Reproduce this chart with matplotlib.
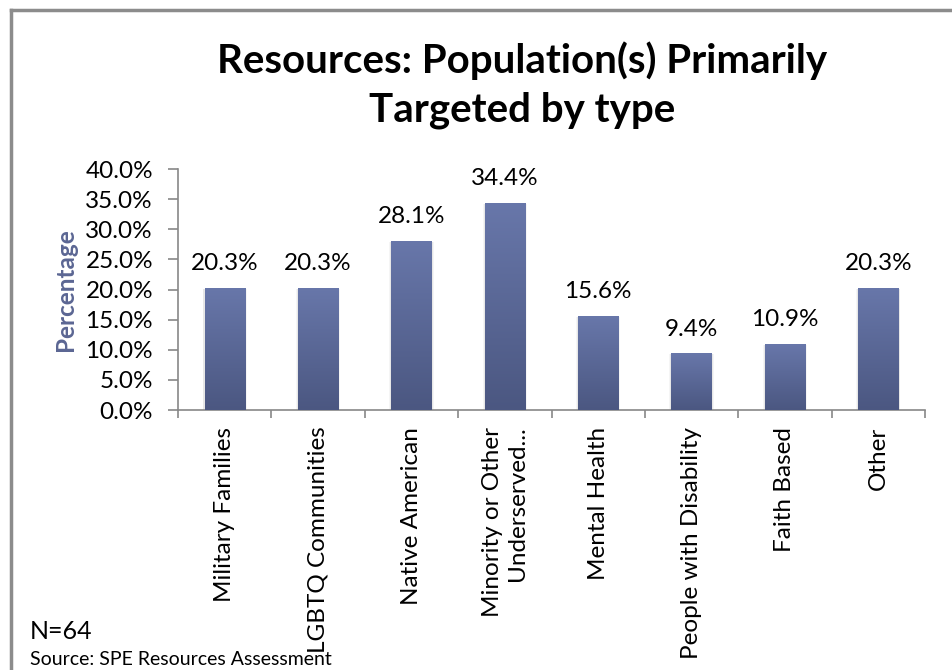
import numpy as np
import matplotlib
matplotlib.use('Agg')
import matplotlib.pyplot as plt
from matplotlib.lines import Line2D
from matplotlib.ticker import FixedLocator, PercentFormatter

plt.rcParams['font.family'] = ['Lato', 'DejaVu Sans']

categories = ['Military Families', 'LGBTQ Communities', 'Native American',
              'Minority or Other\nUnderserved...', 'Mental Health',
              'People with Disability', 'Faith Based', 'Other']
values = [20.3, 20.3, 28.1, 34.4, 15.6, 9.4, 10.9, 20.3]
y_ticks = [0, 5, 10, 15, 20, 25, 30, 35, 40]

fig = plt.figure(figsize=(9.53, 6.70), dpi=100)
ax = fig.add_axes([0.1868, 0.388, 0.7838, 0.3597])

x = np.arange(len(categories))
bar_w = 0.43
bars = ax.bar(x, values, width=bar_w, color='none', edgecolor='none', zorder=3)

# vertical gradient fill for each bar, plus a soft shadow
grad = np.linspace(0, 1, 256).reshape(-1, 1)
cmap = matplotlib.colors.LinearSegmentedColormap.from_list('bar', ['#4b5781', '#6877aa'])
for b in bars:
    x0, h = b.get_x(), b.get_height()
    for off, a in [(0.025, 0.35), (0.045, 0.2)]:
        ax.bar(x0 + bar_w / 2, h + 0.15, width=bar_w + off, bottom=-0.3, color='#cfcfcf',
               alpha=a, zorder=2, linewidth=0)
    im = ax.imshow(grad, cmap=cmap, aspect='auto', origin='lower',
                   extent=(x0, x0 + bar_w, 0, h), zorder=3)
    im.set_clip_path(b)
    ax.annotate(f'{h:.1f}%', (x0 + bar_w / 2, h), xytext=(0, 10),
                textcoords='offset points', ha='center', va='bottom', fontsize=17.5)

ax.set_xlim(-0.5, len(categories) - 0.5)
ax.set_ylim(0, 40)
ax.yaxis.set_major_locator(FixedLocator(y_ticks))
ax.yaxis.set_major_formatter(PercentFormatter(decimals=1))

ax.set_xticks(x)
ax.set_xticklabels(categories, rotation=90, fontsize=17.5, multialignment='right')
ax.tick_params(axis='x', length=0, pad=12)
ax.set_xticks(np.arange(len(categories) + 1) - 0.5, minor=True)
ax.tick_params(axis='x', which='minor', length=6, color='#888888', width=1.2)
ax.tick_params(axis='y', labelsize=17.5, length=7, color='#888888', width=1.2, pad=11)

for side in ['top', 'right']:
    ax.spines[side].set_visible(False)
for side in ['left', 'bottom']:
    ax.spines[side].set_color('#888888')
    ax.spines[side].set_linewidth(1.2)

ax.set_ylabel('Percentage', fontsize=17.5, fontweight='bold', color='#5b6693', labelpad=6)

fig.text(0.548, 0.873, 'Resources: Population(s) Primarily\nTargeted by type',
         ha='center', va='center', fontsize=29, fontweight='bold', linespacing=1.38)
fig.text(0.031, 0.057, 'N=64', fontsize=18, va='center')
fig.text(0.031, 0.015, 'Source: SPE Resources Assessment', fontsize=14, va='center')

# chart frame
fig.add_artist(Line2D([0.012, 0.012], [0, 0.985], color='#8c8c8c', lw=2.5))
fig.add_artist(Line2D([0.012, 1.0], [0.985, 0.985], color='#8c8c8c', lw=2.5))

fig.savefig('out.png', dpi=100)
